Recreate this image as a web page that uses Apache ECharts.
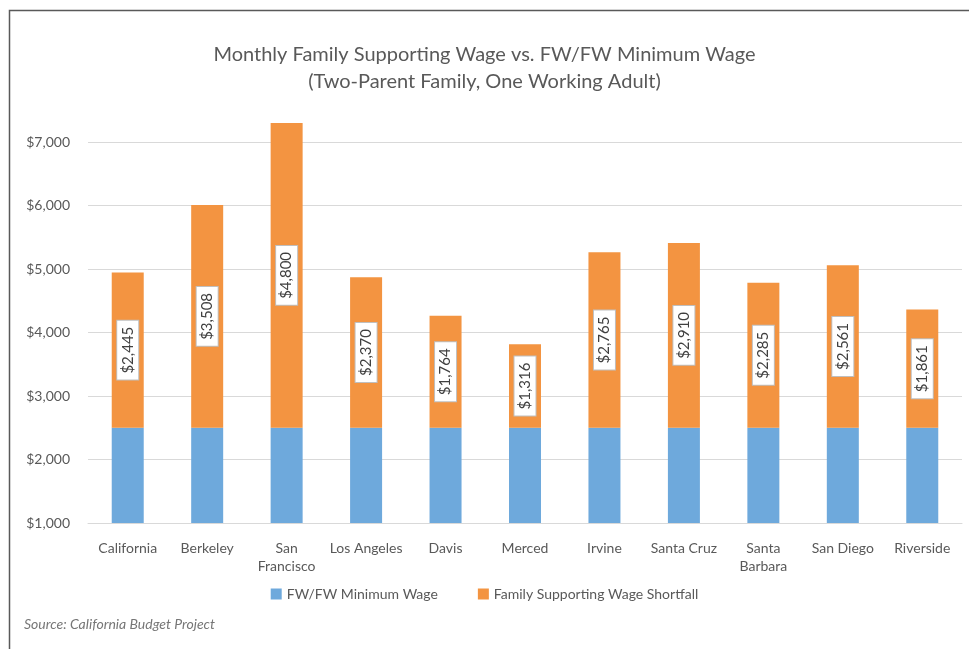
<!DOCTYPE html>
<html>
<head>
<meta charset="utf-8">
<script src="https://cdn.jsdelivr.net/npm/echarts@6/dist/echarts.min.js"></script>
<style>
  html, body { margin: 0; padding: 0; background: #fff; }
  #chart { width: 969px; height: 649px; }
</style>
</head>
<body>
<div id="chart"></div>
<script>
const cities = ['California', 'Berkeley', 'San\nFrancisco', 'Los Angeles', 'Davis', 'Merced',
  'Irvine', 'Santa Cruz', 'Santa\nBarbara', 'San Diego', 'Riverside']
const minimumWage = [2500, 2500, 2500, 2500, 2500, 2500, 2500, 2500, 2500, 2500, 2500]
const shortfall = [2445, 3508, 4800, 2370, 1764, 1316, 2765, 2910, 2285, 2561, 1861]
const yMin = 1000
const yMax = 7300

const FONT = 'Lato, "Open Sans", sans-serif'
const fmt = v => '$' + v.toLocaleString('en-US')

const chart = echarts.init(document.getElementById('chart'))
chart.setOption({
  animation: false,
  textStyle: { fontFamily: FONT },
  title: {
    text: 'Monthly Family Supporting Wage vs. FW/FW Minimum Wage\n(Two-Parent Family, One Working Adult)',
    left: 'center',
    top: 36,
    textStyle: { fontSize: 20, fontWeight: 'normal', color: '#595959', lineHeight: 27, fontFamily: FONT }
  },
  legend: {
    bottom: 43,
    left: 'center',
    itemWidth: 11,
    itemHeight: 11,
    itemGap: 40,
    icon: 'rect',
    textStyle: { fontSize: 14, color: '#595959', fontFamily: FONT },
    data: ['FW/FW Minimum Wage', 'Family Supporting Wage Shortfall']
  },
  graphic: [
    {
      type: 'rect',
      shape: { x: 9.5, y: 10.5, width: 980, height: 660 },
      style: { fill: 'none', stroke: '#595959', lineWidth: 1.5 },
      silent: true
    },
    {
      type: 'text',
      left: 24,
      top: 617,
      style: { text: 'Source: California Budget Project', fontSize: 14, fontStyle: 'italic', fill: '#767676', fontFamily: FONT }
    }
  ],
  grid: { left: 88, right: 7, top: 123, bottom: 126 },
  xAxis: {
    type: 'category',
    data: cities,
    axisTick: { show: false },
    axisLine: { lineStyle: { color: '#d9d9d9', width: 1 } },
    axisLabel: { color: '#595959', fontSize: 14, margin: 16, lineHeight: 18, interval: 0 }
  },
  yAxis: {
    type: 'value',
    min: yMin,
    max: yMax,
    interval: 1000,
    axisLine: { show: false },
    axisTick: { show: false },
    splitLine: { lineStyle: { color: '#d9d9d9' }, showMaxLine: false },
    axisLabel: { color: '#595959', fontSize: 14, margin: 18, formatter: fmt, showMaxLabel: false }
  },
  series: [
    {
      name: 'FW/FW Minimum Wage',
      type: 'bar',
      stack: 'wage',
      barWidth: 32,
      itemStyle: { color: '#6ea9dc' },
      data: minimumWage
    },
    {
      name: 'Family Supporting Wage Shortfall',
      type: 'bar',
      stack: 'wage',
      barWidth: 32,
      itemStyle: { color: '#f39441' },
      label: {
        show: true,
        position: 'inside',
        rotate: 90,
        formatter: p => fmt(p.value),
        fontSize: 15,
        color: '#404040',
        backgroundColor: '#fff',
        borderColor: '#bfbfbf',
        borderWidth: 1,
        padding: [4, 6, 2, 6]
      },
      data: shortfall
    }
  ]
})
</script>
</body>
</html>
